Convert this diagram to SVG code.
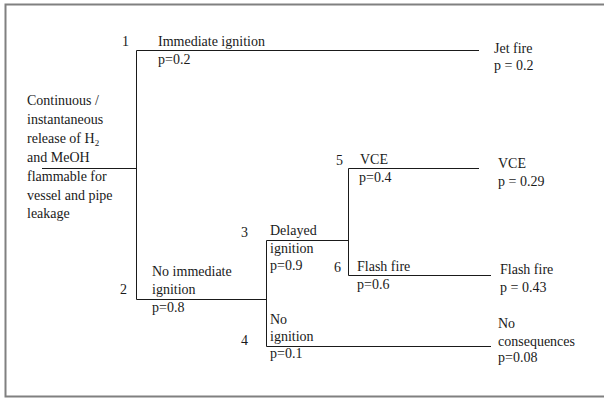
<svg xmlns="http://www.w3.org/2000/svg" width="604" height="398" viewBox="0 0 604 398">
<style>
text{font-family:'Liberation Serif','Times New Roman',Times,'Noto Serif','DejaVu Serif',serif;font-size:14px;fill:#1a1a1a}
.ln{stroke:#1a1a1a;stroke-width:1;fill:none}
.frame{stroke:#808080;stroke-width:2;fill:none}
</style>
<rect width="604" height="398" fill="#ffffff"/>
<path class="frame" d="M610,4.5 H5.5 V396.5 H610"/>
<g id="connectors">
<path class="ln" d="M42,168.5 H136.5"/>
<path class="ln" d="M479,50.5 H136.5 V299.5 H266.5"/>
<path class="ln" d="M348.5,240.5 H266.5 V346.5 H491"/>
<path class="ln" d="M479,168.5 H348.5 V275.5 H491"/>
</g>
<g id="root" font-family="Liberation Serif, serif">
<text x="27" y="105">Continuous /</text>
<text x="27" y="124">instantaneous</text>
<text x="27" y="143">release  of H<tspan font-size="9" dy="3">2</tspan></text>
<text x="27" y="162">and MeOH</text>
<text x="27" y="181">flammable  for</text>
<text x="27" y="199.5">vessel and pipe</text>
<text x="27" y="218">leakage</text>
</g>
<g id="node1">
<text x="122" y="46">1</text>
<text x="158" y="46">Immediate ignition</text>
<text x="158" y="64">p=0.2</text>
</g>
<g id="node2">
<text x="120" y="294">2</text>
<text x="152" y="276">No immediate</text>
<text x="152" y="294">ignition</text>
<text x="152" y="312">p=0.8</text>
</g>
<g id="node3">
<text x="241" y="237">3</text>
<text x="270" y="235">Delayed</text>
<text x="270" y="252.5">ignition</text>
<text x="270" y="270">p=0.9</text>
</g>
<g id="node4">
<text x="241" y="345">4</text>
<text x="270" y="324">No</text>
<text x="270" y="341">ignition</text>
<text x="270" y="358">p=0.1</text>
</g>
<g id="node5">
<text x="336" y="165">5</text>
<text x="360" y="164">VCE</text>
<text x="359" y="182">p=0.4</text>
</g>
<g id="node6">
<text x="334" y="272">6</text>
<text x="357" y="271">Flash fire</text>
<text x="357" y="289">p=0.6</text>
</g>
<g id="out-jet">
<text x="494" y="53">Jet fire</text>
<text x="494" y="70">p = 0.2</text>
</g>
<g id="out-vce">
<text x="498" y="168">VCE</text>
<text x="498" y="186">p = 0.29</text>
</g>
<g id="out-flash">
<text x="500" y="274">Flash fire</text>
<text x="500" y="292">p = 0.43</text>
</g>
<g id="out-none">
<text x="498" y="328">No</text>
<text x="498" y="346">consequences</text>
<text x="498" y="362">p=0.08</text>
</g>
</svg>
